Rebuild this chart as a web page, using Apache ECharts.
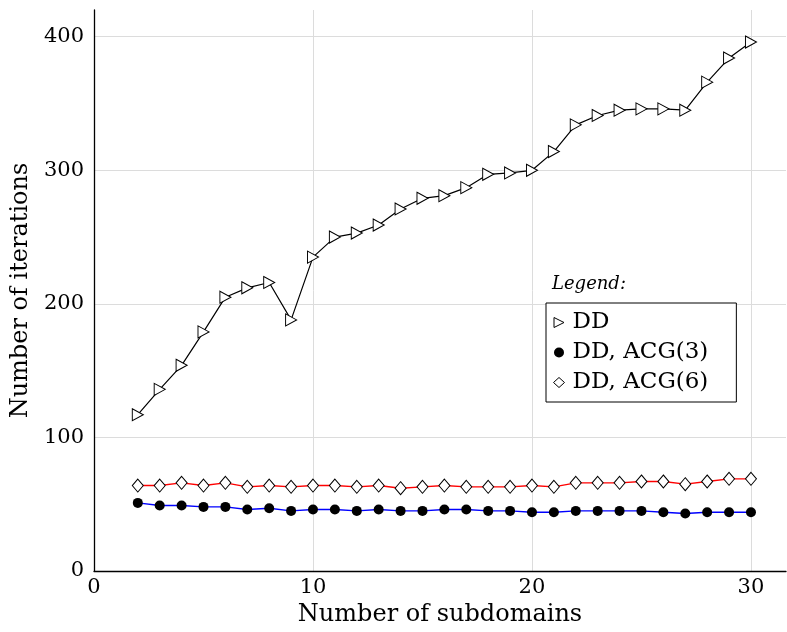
<!DOCTYPE html>
<html>
<head>
<meta charset="utf-8">
<script src="https://cdn.jsdelivr.net/npm/echarts@6/dist/echarts.min.js"></script>
<style>
  html, body { margin: 0; padding: 0; background: #fff; }
  #echart { width: 787px; height: 632px; }
</style>
</head>
<body>
<div id="echart"></div>
<script>
// number of subdomains
var subdomains = [2,3,4,5,6,7,8,9,10,11,12,13,14,15,16,17,18,19,20,21,22,23,24,25,26,27,28,29,30];
// iterations, plain DD
var ddIters = [117,136,154,179,205,212,216,188,235,250,253,259,271,279,281,287,297,298,300,314,334,341,345,346,346,345,366,384,396];
// iterations, DD + ACG(3)
var acg3Iters = [51,49,49,48,48,46,47,45,46,46,45,46,45,45,46,46,45,45,44,44,45,45,45,45,44,43,44,44,44];
// iterations, DD + ACG(6)
var acg6Iters = [64,64,66,64,66,63,64,63,64,64,63,64,62,63,64,63,63,63,64,63,66,66,66,67,67,65,67,69,69];

var seriesNames = ['DD', 'DD, ACG(3)', 'DD, ACG(6)'];

var font = 'DejaVu Serif';
var triPath = 'path://M0,0L10,5L0,10Z';

function pairs(ys) {
  return subdomains.map(function (x, i) { return [x, ys[i]]; });
}

var myChart = echarts.init(document.getElementById('echart'));
myChart.setOption({
  animation: false,
  backgroundColor: '#fff',
  grid: { left: 94, right: 1, top: 10, bottom: 61 },
  xAxis: {
    type: 'value',
    min: 0, max: 31.6, interval: 10,
    name: 'Number of subdomains',
    nameLocation: 'middle',
    nameGap: 32,
    nameTextStyle: { fontFamily: font, fontSize: 24, color: '#000' },
    axisLine: { show: true, lineStyle: { color: '#000', width: 1.3 } },
    axisTick: { show: false },
    axisLabel: { fontFamily: font, fontSize: 21, color: '#000', margin: 6, showMaxLabel: false },
    splitLine: { show: true, showMinLine: false, showMaxLine: false, lineStyle: { color: '#dcdcdc', width: 1 } }
  },
  yAxis: {
    type: 'value',
    min: 0, max: 420, interval: 100,
    name: 'Number of iterations',
    nameLocation: 'middle',
    nameGap: 56,
    nameTextStyle: { fontFamily: font, fontSize: 24, color: '#000' },
    axisLine: { show: true, lineStyle: { color: '#000', width: 1.3 } },
    axisTick: { show: false },
    axisLabel: { fontFamily: font, fontSize: 21, color: '#000', margin: 10, showMaxLabel: false },
    splitLine: { show: true, showMinLine: false, showMaxLine: false, lineStyle: { color: '#dcdcdc', width: 1 } }
  },
  legend: {
    orient: 'vertical',
    left: 546, top: 303,
    borderColor: '#000', borderWidth: 1,
    backgroundColor: '#fff',
    padding: [8, 28, 8, 7],
    itemWidth: 11, itemHeight: 10, itemGap: 7,
    textStyle: { fontFamily: font, fontSize: 23, color: '#000', padding: [0, 0, 0, 3] },
    data: [
      { name: seriesNames[0], icon: triPath, itemStyle: { color: '#fff', borderColor: '#000', borderWidth: 1 } },
      { name: seriesNames[1], icon: 'circle', itemStyle: { color: '#000', borderWidth: 0 } },
      { name: seriesNames[2], icon: 'diamond', itemStyle: { color: '#fff', borderColor: '#000', borderWidth: 1 } }
    ]
  },
  graphic: [{
    type: 'text', left: 552, top: 275,
    style: { text: 'Legend:', fontFamily: font, fontStyle: 'italic', fontSize: 18, fill: '#000' }
  }],
  series: [
    {
      name: seriesNames[0], type: 'line', data: pairs(ddIters),
      symbol: triPath, symbolSize: [11, 12],
      itemStyle: { color: '#fff', borderColor: '#000', borderWidth: 1 },
      lineStyle: { color: '#000', width: 1.2 }
    },
    {
      name: seriesNames[1], type: 'line', data: pairs(acg3Iters),
      symbol: 'circle', symbolSize: 10,
      itemStyle: { color: '#000', borderWidth: 0 },
      lineStyle: { color: '#0000ff', width: 1.4 }
    },
    {
      name: seriesNames[2], type: 'line', data: pairs(acg6Iters),
      symbol: 'diamond', symbolSize: [11, 13],
      itemStyle: { color: '#fff', borderColor: '#000', borderWidth: 1 },
      lineStyle: { color: '#ff0000', width: 1.4 }
    }
  ]
});
</script>
</body>
</html>
